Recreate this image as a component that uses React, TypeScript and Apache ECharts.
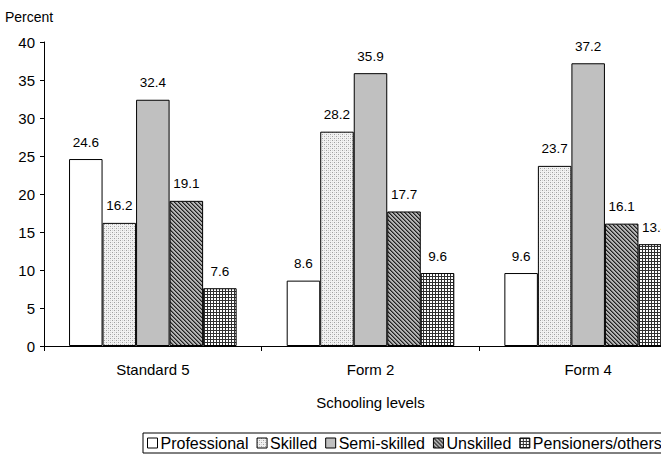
import React, { useEffect, useRef } from "react";
import * as echarts from "echarts";

const categories = ["Standard 5", "Form 2", "Form 4"];
const seriesNames = ["Professional", "Skilled", "Semi-skilled", "Unskilled", "Pensioners/others"];
const professional = [24.6, 8.6, 9.6];
const skilled = [16.2, 28.2, 23.7];
const semiSkilled = [32.4, 35.9, 37.2];
const unskilled = [19.1, 17.7, 16.1];
const pensioners = [7.6, 9.6, 13.4];
const yTicks = { min: 0, max: 40, interval: 5 };

const FONT = "Arial, 'Liberation Sans', sans-serif";

// Small repeating tiles drawn on a canvas, used as bar fills.
function makeTile(size: number, draw: (ctx: CanvasRenderingContext2D) => void) {
  const c = document.createElement("canvas");
  c.width = size;
  c.height = size;
  const ctx = c.getContext("2d")!;
  draw(ctx);
  return { image: c, repeat: "repeat", imageWidth: size, imageHeight: size } as any;
}

function dottedFill() {
  return makeTile(4, (ctx) => {
    ctx.fillStyle = "#f2f2f2";
    ctx.fillRect(0, 0, 4, 4);
    ctx.fillStyle = "#a0a0a0";
    ctx.fillRect(0, 0, 1, 1);
    ctx.fillRect(2, 2, 1, 1);
    ctx.fillStyle = "#d4d4d4";
    ctx.fillRect(2, 0, 1, 1);
    ctx.fillRect(0, 2, 1, 1);
  });
}

function diagonalFill() {
  return makeTile(4, (ctx) => {
    ctx.fillStyle = "#b4b4b4";
    ctx.fillRect(0, 0, 4, 4);
    ctx.fillStyle = "#202020";
    for (let i = 0; i < 4; i++) {
      ctx.fillRect(i, i, 1, 1);
    }
    ctx.fillStyle = "#6a6a6a";
    for (let i = 0; i < 4; i++) {
      ctx.fillRect((i + 1) % 4, i, 1, 1);
    }
  });
}

function gridFill() {
  return makeTile(3, (ctx) => {
    ctx.fillStyle = "#ffffff";
    ctx.fillRect(0, 0, 3, 3);
    ctx.fillStyle = "#303030";
    ctx.fillRect(0, 0, 3, 1);
    ctx.fillRect(0, 0, 1, 3);
  });
}

export default function App() {
  const ref = useRef<HTMLDivElement>(null);

  useEffect(() => {
    if (!ref.current) return;
    const chart = echarts.init(ref.current, undefined, { renderer: "svg" });

    const fills = ["#ffffff", dottedFill(), "#c0c0c0", diagonalFill(), gridFill()];
    const values = [professional, skilled, semiSkilled, unskilled, pensioners];

    const series = seriesNames.map((name, i) => ({
      name,
      type: "bar",
      data: values[i],
      barGap: "0%",
      barCategoryGap: "23%",
      itemStyle: { color: fills[i], borderColor: "#000", borderWidth: 1 },
      label: {
        show: true,
        position: "top",
        distance: 10,
        color: "#000",
        fontFamily: FONT,
        fontSize: 13.5,
      },
    }));

    chart.setOption({
      animation: false,
      backgroundColor: "#ffffff",
      textStyle: { fontFamily: FONT },
      grid: { left: 44, top: 42, width: 653, height: 304, containLabel: false },
      xAxis: {
        type: "category",
        data: categories,
        name: "Schooling levels",
        nameLocation: "middle",
        nameGap: 49,
        nameTextStyle: { color: "#000", fontSize: 15, fontFamily: FONT },
        axisLine: { lineStyle: { color: "#000", width: 1 } },
        axisTick: { show: true, length: 5, lineStyle: { color: "#000" } },
        axisLabel: { color: "#000", fontSize: 15, fontFamily: FONT, margin: 16 },
      },
      yAxis: {
        type: "value",
        min: yTicks.min,
        max: yTicks.max,
        interval: yTicks.interval,
        splitLine: { show: false },
        axisLine: { show: true, lineStyle: { color: "#000", width: 1 } },
        axisTick: { show: true, length: 4, lineStyle: { color: "#000" } },
        axisLabel: { color: "#000", fontSize: 15, fontFamily: FONT, margin: 9 },
      },
      legend: {
        left: 143,
        top: 433,
        orient: "horizontal",
        itemWidth: 10,
        itemHeight: 10,
        itemGap: 8,
        padding: [2, 6, 2, 4],
        borderColor: "#000",
        borderWidth: 1,
        icon: "rect",
        textStyle: { color: "#000", fontSize: 16, fontFamily: FONT, padding: [0, 0, 0, -2] },
        itemStyle: { borderColor: "#000", borderWidth: 1 },
        data: seriesNames,
      },
      graphic: [
        {
          type: "text",
          left: 5,
          top: 10,
          style: { text: "Percent", fill: "#000", fontSize: 14, fontFamily: FONT },
        },
      ],
      series,
    });

    return () => chart.dispose();
  }, []);

  return (
    <div
      style={{
        position: "fixed",
        left: 0,
        top: 0,
        width: 661,
        height: 468,
        overflow: "hidden",
        background: "#fff",
      }}
    >
      <div ref={ref} style={{ width: 720, height: 468 }} />
    </div>
  );
}
